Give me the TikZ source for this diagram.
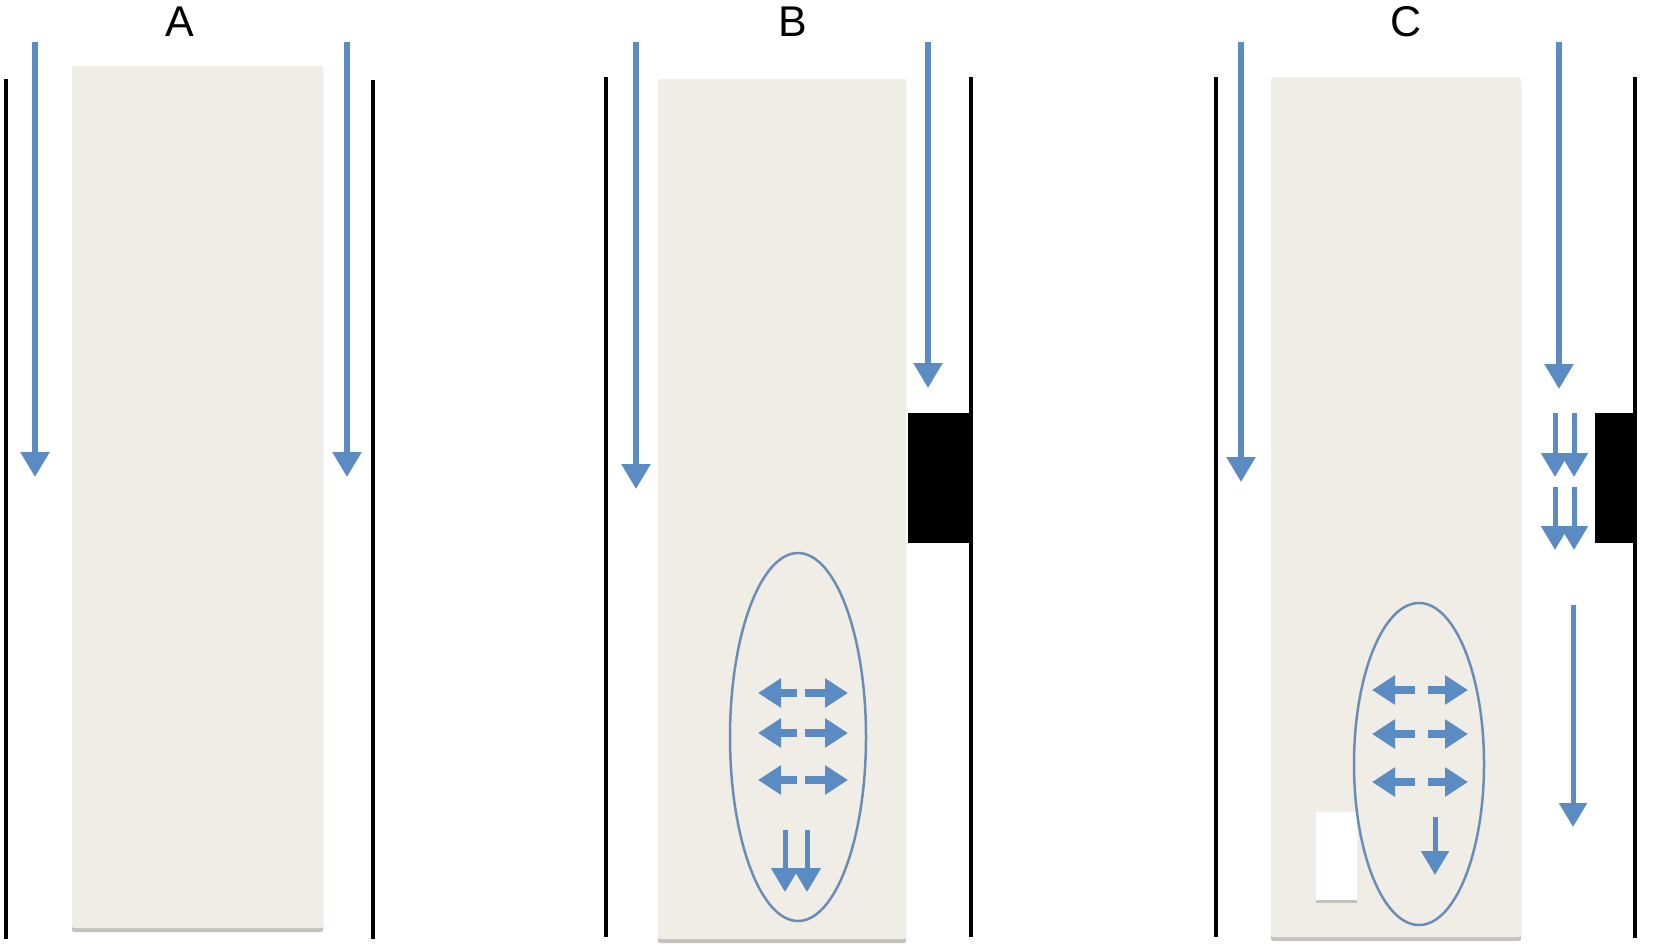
\documentclass[tikz,border=0pt]{standalone}
\usepackage{fontspec}
\setmainfont{Liberation Sans}
\usetikzlibrary{arrows.meta,shapes.geometric,shadows}
\definecolor{arrowblue}{HTML}{5B8BC3}
\definecolor{ellblue}{HTML}{6A8DB6}
\definecolor{panelbeige}{HTML}{EFEDE5}
\definecolor{shadowgray}{HTML}{C4C2BC}
\tikzset{
  wall/.style={line width=4pt, black},
  panel/.style={fill=panelbeige, draw=none, inner sep=0pt, rounded corners=2pt,
    drop shadow={shadow xshift=0pt, shadow yshift=-4pt, fill=shadowgray, opacity=1}},
  plug/.style={fill=black, draw=none, inner sep=0pt},
  gap/.style={fill=white, draw=none, inner sep=0pt,
    drop shadow={shadow xshift=0pt, shadow yshift=-3pt, fill=shadowgray, opacity=1}},
  zone/.style={ellipse, draw=ellblue, line width=2.5pt, inner sep=0pt},
  flow/.style={arrowblue, line width=5.5pt, -{Triangle[width=28pt,length=25pt]}},
  sflow/.style={arrowblue, line width=5pt, -{Triangle[width=27pt,length=24pt]}},
  hflow/.style={arrowblue, line width=8pt, -{Triangle[width=28pt,length=23pt]}},
  lbl/.style={font=\fontsize{43}{50}\selectfont, anchor=base, inner sep=0pt},
}
\begin{document}
\begin{tikzpicture}[x=1pt,y=-1pt]
\useasboundingbox (0,0) rectangle (1654,948);
% labels
\node[lbl] (la) at (179.5,36) {A};
\node[lbl] (lb) at (793,36) {B};
\node[lbl] (lc) at (1406,36) {C};
% panels
\node[panel, minimum width=251pt, minimum height=862pt] (pa) at (197.5,497) {};
\node[panel, minimum width=248pt, minimum height=860pt] (pb) at (782,509) {};
\node[panel, minimum width=250pt, minimum height=860pt] (pc) at (1396,507) {};
% walls
\foreach \n/\x/\ya/\yb in {wa1/6/79/939, wa2/373/80/939, wb1/606/77/937, wb2/971/77/937, wc1/1216/77/937, wc2/1635/77/938}{
  \coordinate (\n s) at (\x,\ya);
  \coordinate (\n e) at (\x,\yb);
  \draw[wall] (\n s) -- (\n e);
}
% plugs
\node[plug, minimum width=65pt, minimum height=130pt] (kb) at (940.5,478) {};
\node[plug, minimum width=40pt, minimum height=130pt] (kc) at (1615,478) {};
% small gap in C
\node[gap, minimum width=41pt, minimum height=88pt] (gc) at (1336.5,856) {};
% ellipses
\node[zone, minimum width=136pt, minimum height=368pt] (eb) at (798,737) {};
\node[zone, minimum width=130pt, minimum height=322pt] (ec) at (1419,764) {};
% long flow arrows
\foreach \n/\x/\ya/\yb in {fa1/35/42/477, fa2/347/42/477, fb1/636/42/489, fb2/928/42/388, fc1/1241/42/482, fc2/1559/42/389}{
  \coordinate (\n s) at (\x,\ya);
  \coordinate (\n e) at (\x,\yb);
  \draw[flow] (\n s) -- (\n e);
}
% short down arrows
\foreach \n/\x/\ya/\yb in {db1/785/830/892, db2/807/830/892, dc1/1555/413/477, dc2/1574/413/477, dc3/1555/487/550, dc4/1574/487/550, dc5/1435/817/875, dc6/1573/605/827}{
  \coordinate (\n s) at (\x,\ya);
  \coordinate (\n e) at (\x,\yb);
  \draw[sflow] (\n s) -- (\n e);
}
% horizontal arrows
\foreach \n/\y in {hb1/693, hb2/733, hb3/780}{
  \coordinate (\n ls) at (797,\y); \coordinate (\n le) at (758,\y);
  \coordinate (\n rs) at (805,\y); \coordinate (\n re) at (848,\y);
  \draw[hflow] (\n ls) -- (\n le);
  \draw[hflow] (\n rs) -- (\n re);
}
\foreach \n/\y in {hc1/690, hc2/734, hc3/782}{
  \coordinate (\n ls) at (1415,\y); \coordinate (\n le) at (1372,\y);
  \coordinate (\n rs) at (1428,\y); \coordinate (\n re) at (1468,\y);
  \draw[hflow] (\n ls) -- (\n le);
  \draw[hflow] (\n rs) -- (\n re);
}
\end{tikzpicture}
\end{document}
